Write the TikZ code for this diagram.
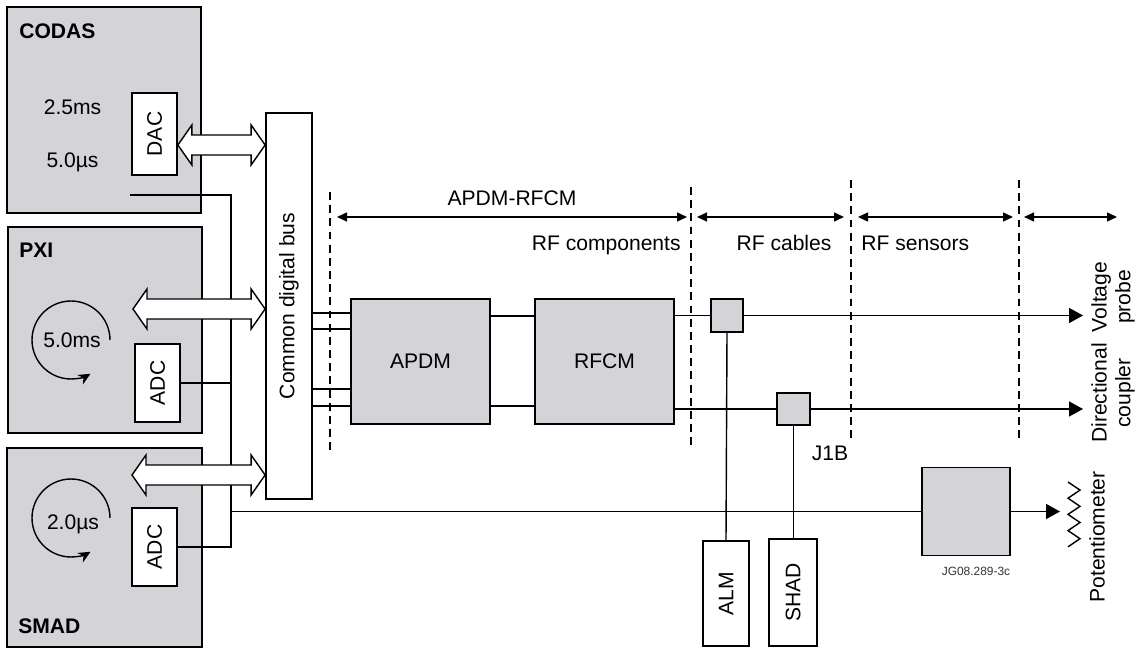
\documentclass[tikz,border=0pt]{standalone}
\usepackage{fontspec}
\setmainfont{Liberation Sans}
\usepackage{graphicx}
\usetikzlibrary{arrows.meta, calc}
\definecolor{panelgray}{HTML}{D3D3D8}
\definecolor{tagcol}{HTML}{333333}

% hollow two-way bus arrow between two tips
\newcommand{\hollowarrow}[2]{%
  \draw[fill=white, line width=0.8pt, line join=miter]
    (#1) -- ++(14,-20) -- ++(0,10) -- ($(#2)+(-14,-10)$) -- ++(0,-10) -- (#2)
    -- ++(-14,20) -- ++(0,-10) -- ($(#1)+(14,10)$) -- ++(0,10) -- cycle;}

\begin{document}
\begin{tikzpicture}[
  x=0.02cm, y=-0.02cm,
  font=\fontsize{12}{13.5}\selectfont,
  panel/.style={rectangle, draw, line width=1pt, fill=panelgray, inner sep=0pt},
  module/.style={rectangle, draw, line width=1pt, fill=panelgray, inner sep=0pt,
                 minimum width=2.78cm, minimum height=2.5cm},
  conv/.style={rectangle, draw, line width=1pt, fill=white, inner sep=0pt},
  tap/.style={rectangle, draw, line width=1pt, fill=panelgray,
              minimum width=0.65cm, minimum height=0.65cm},
  txt/.style={inner sep=0pt},
  wire/.style={line width=0.8pt},
  sig/.style={wire, -{Triangle[length=0.28cm, width=0.3cm]}},
  dimarrow/.style={wire, {Triangle[length=0.2cm, width=0.18cm]}-{Triangle[length=0.2cm, width=0.18cm]}},
  divider/.style={line width=0.8pt, dash pattern=on 4.5pt off 3pt},
  clock/.style={line width=0.8pt, -{Stealth[length=0.24cm, width=0.22cm]}},
]
  \useasboundingbox (0,0) rectangle (1139,648);

  % acquisition systems
  \node[panel, minimum width=3.88cm, minimum height=4.12cm] (codas) at (104,110) {};
  \node[panel, minimum width=3.88cm, minimum height=4.12cm] (pxi) at (105,330) {};
  \node[panel, minimum width=3.9cm, minimum height=3.98cm] (smad) at (104.5,547.5) {};
  \node[txt, anchor=base west, font=\fontsize{12}{13.5}\selectfont\bfseries] (codaslbl) at (19,39) {CODAS};
  \node[txt, anchor=base west, font=\fontsize{12}{13.5}\selectfont\bfseries] (pxilbl) at (19,258) {PXI};
  \node[txt, anchor=base west, font=\fontsize{12}{13.5}\selectfont\bfseries] (smadlbl) at (18,633) {SMAD};
  \node[txt, anchor=base] (codasms) at (72.5,115) {2.5ms};
  \node[txt, anchor=base] (codasus) at (72.5,168) {5.0µs};
  \node[txt, anchor=base] (pxiclk) at (72,348) {5.0ms};
  \node[txt, anchor=base] (smadclk) at (73,529) {2.0µs};
  \coordinate (pxic) at (71,340);
  \coordinate (smadc) at (71,518);
  \draw[clock] ($(pxic)+(0.78cm,0)$) arc[start angle=0, end angle=300, radius=0.78cm];
  \draw[clock] ($(smadc)+(0.78cm,0)$) arc[start angle=0, end angle=300, radius=0.78cm];

  % bus and converters
  \node[conv, minimum width=0.92cm, minimum height=7.72cm] (bus) at (289,306)
    {\rotatebox{90}{Common digital bus}};
  \node[conv, minimum width=0.9cm, minimum height=1.64cm] (dac) at (154.5,134) {\rotatebox{90}{DAC}};
  \node[conv, minimum width=0.9cm, minimum height=1.56cm] (pxiadc) at (157.5,383) {\rotatebox{90}{ADC}};
  \node[conv, minimum width=0.9cm, minimum height=1.56cm] (smadadc) at (154.5,547) {\rotatebox{90}{ADC}};

  % analogue trunk
  \coordinate (codasout) at (130,195);
  \coordinate (jtop) at (231,195);
  \draw[wire] (codasout) -- (jtop) -- (jtop |- smadadc.east) -- (smadadc.east);
  \draw[wire] (pxiadc.east) -- (pxiadc.east -| jtop);

  % digital links
  \coordinate (dacport) at ($(dac.east)+(0,11)$);
  \coordinate (pxiport) at (133,309);
  \coordinate (smadport) at (132,475);
  \hollowarrow{dacport}{bus.west |- dacport}
  \hollowarrow{pxiport}{bus.west |- pxiport}
  \hollowarrow{smadport}{bus.west |- smadport}

  % RF chain
  \node[module] (apdm) at (420.5,361.5) {APDM};
  \node[module] (rfcm) at (604.5,361.5) {RFCM};
  \node[tap] (tap1) at (727,315.5) {};
  \node[tap] (tap2) at (793.5,409) {};
  \node[conv, minimum width=0.92cm, minimum height=2.1cm] (alm) at (726,593.5) {\rotatebox{90}{ALM}};
  \node[conv, minimum width=0.96cm, minimum height=2.14cm] (shad) at (793,592.5) {\rotatebox{90}{SHAD}};
  \node[panel, minimum width=1.76cm, minimum height=1.76cm] (pot) at (966,511.5) {};

  \foreach \yy in {313,329,389,406}
    \draw[wire] (bus.east |- 0,\yy) -- (apdm.west |- 0,\yy);
  \foreach \yy in {316,406}
    \draw[wire] (apdm.east |- 0,\yy) -- (rfcm.west |- 0,\yy);
  \draw[wire] (rfcm.east |- tap1.west) -- (tap1.west);
  \draw[wire] (rfcm.east |- tap2.west) -- (tap2.west);
  \coordinate (vtip) at (tap1.east -| 1083,0);
  \coordinate (dtip) at (tap2.east -| 1083,0);
  \coordinate (ptip) at (pot.east -| 1060,0);
  \draw[sig] (tap1.east) -- (vtip);
  \draw[sig] (tap2.east) -- (dtip);
  \draw[wire] (tap1.south) -- (alm.north);
  \draw[wire] (tap2.south) -- (shad.north -| tap2.south);
  \draw[wire] (jtop |- pot.west) -- (pot.west);
  \draw[sig] (pot.east) -- (ptip);
  \coordinate (zig) at (1068,482);
  \draw[wire] (zig) \foreach \k in {1,...,4} { -- ++(12,8.1) -- ++(-12,8.1) };

  % sections
  \coordinate (d1) at (330,217);
  \coordinate (d2) at (691,217);
  \coordinate (d3) at (851,217);
  \coordinate (d4) at (1019,217);
  \coordinate (dend) at (1117,217);
  \draw[divider] (330,192) -- (330,455);
  \draw[divider] (691,187) -- (691,445);
  \draw[divider] (851,180) -- (851,443);
  \draw[divider] (1019,180) -- (1019,442);
  \draw[dimarrow] ($(d1)+(7,0)$) -- ($(d2)+(-4,0)$);
  \draw[dimarrow] ($(d2)+(6,0)$) -- ($(d3)+(-7,0)$);
  \draw[dimarrow] ($(d3)+(7,0)$) -- ($(d4)+(-6,0)$);
  \draw[dimarrow] ($(d4)+(5,0)$) -- (dend);

  \node[txt, anchor=base] (apdmrfcm) at (512,205.5) {APDM-RFCM};
  \node[txt, anchor=base east] (rfcomp) at (681,251) {RF components};
  \node[txt, anchor=base] (rfcab) at (784,251) {RF cables};
  \node[txt, anchor=base west] (rfsens) at (861,251) {RF sensors};
  \node[txt, anchor=base] (j1b) at (830,460) {J1B};
  \node[txt, anchor=base, font=\fontsize{6.8}{8}\selectfont, text=tagcol] (tag) at (976,575) {JG08.289-3c};

  % end devices
  \node[rotate=90, align=center, inner sep=0pt] (vprobe) at (1113,297) {Voltage\\probe};
  \node[rotate=90, align=center, inner sep=0pt] (dcoupler) at (1113,393) {Directional\\coupler};
  \node[rotate=90, inner sep=0pt] (potlbl) at (1097,537) {Potentiometer};
\end{tikzpicture}
\end{document}
